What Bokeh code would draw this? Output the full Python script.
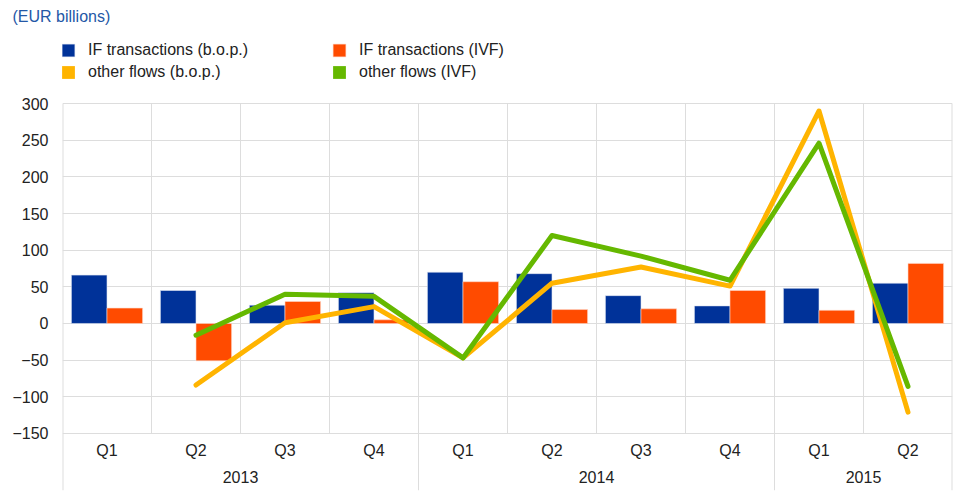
from bokeh.plotting import figure
from bokeh.models import (ColumnDataSource, FactorRange, Range1d, FixedTicker, Legend,
                          LegendItem, CategoricalAxis)
from bokeh.transform import dodge
from bokeh.embed import file_html
from bokeh.resources import INLINE

years = ["2013", "2014", "2015"]
quarters = [("2013", "Q1"), ("2013", "Q2"), ("2013", "Q3"), ("2013", "Q4"),
            ("2014", "Q1"), ("2014", "Q2"), ("2014", "Q3"), ("2014", "Q4"),
            ("2015", "Q1"), ("2015", "Q2")]

if_bop = [66, 45, 25, 42, 70, 68, 38, 24, 48, 55]
if_ivf = [21, -51, 30, 5, 57, 19, 20, 45, 18, 82]
# other flows start in 2013 Q2
other_bop = [-84, 1, 23, -47, 55, 77, 51, 290, -121]
other_ivf = [-16, 40, 37, -47, 120, 92, 59, 246, -86]

y_ticks = [-150, -100, -50, 0, 50, 100, 150, 200, 250, 300]

BLUE = "#003299"
ORANGE = "#ff4b00"
YELLOW = "#ffb400"
GREEN = "#65b800"
GRID = "#dddddd"
FONT = "Liberation Sans"

W, H = 954, 504
LEFT, RIGHT, BOTTOM = 62, 2, 14
TOP_PANEL = 30          # height of the title panel
frame_top = TOP_PANEL
frame_bottom = H - BOTTOM
px_per_unit = 329 / 450.0
y_start = -150 - (frame_bottom - 433) / px_per_unit
y_end = 300 + (104 - frame_top) / px_per_unit

p = figure(width=W, height=H, output_backend="svg", toolbar_location=None,
           x_range=FactorRange(*quarters, factor_padding=0, group_padding=0,
                               subgroup_padding=0, range_padding=0),
           y_range=Range1d(y_start, y_end),
           min_border_left=LEFT, min_border_right=RIGHT, min_border_top=0,
           min_border_bottom=BOTTOM, x_axis_location=None,
           title="(EUR billions)")
p.outline_line_color = None
p.background_fill_color = "white"

p.title.align = "left"
p.title.offset = -50
p.title.standoff = 10
p.title.text_font = FONT
p.title.text_font_size = "16px"
p.title.text_font_style = "normal"
p.title.text_color = "#2458a6"

# y axis
p.yaxis.ticker = FixedTicker(ticks=y_ticks)
p.yaxis.axis_line_color = None
p.yaxis.major_tick_line_color = None
p.yaxis.minor_tick_line_color = None
p.yaxis.major_tick_out = 0
p.yaxis.major_tick_in = 0
p.yaxis.major_label_standoff = 14
p.yaxis.major_label_text_font = FONT
p.yaxis.major_label_text_font_size = "16px"
p.yaxis.major_label_text_color = "#222222"
p.ygrid.ticker = FixedTicker(ticks=y_ticks)
p.ygrid.grid_line_color = GRID
p.xgrid.grid_line_color = None

# x axis fixed at the bottom of the value area
xaxis = CategoricalAxis(fixed_location=y_ticks[0])
xaxis.axis_line_color = None
xaxis.major_tick_line_color = None
xaxis.minor_tick_line_color = None
xaxis.major_tick_out = 0
xaxis.major_tick_in = 0
xaxis.major_label_standoff = 9
xaxis.major_label_text_font = FONT
xaxis.major_label_text_font_size = "16px"
xaxis.major_label_text_line_height = 1.08
xaxis.major_label_text_color = "#222222"
xaxis.group_text_font = FONT
xaxis.group_text_font_size = "16px"
xaxis.group_text_font_style = "normal"
xaxis.group_text_color = "#222222"
xaxis.separator_line_color = None
p.add_layout(xaxis, "below")

# category separators
n = len(quarters)
xs0, ys0, ys1 = [], [], []
for i in range(n + 1):
    is_year_edge = i == 0 or i == n or quarters[i - 1][0] != quarters[i][0]
    xs0.append(i)
    ys0.append(y_start if is_year_edge else y_ticks[0])
    ys1.append(y_ticks[-1])
p.segment(x0=xs0, y0=ys0, x1=xs0, y1=ys1, line_color=GRID,
          line_width=[2 if i in (0, n) else 1 for i in range(n + 1)])

src = ColumnDataSource(dict(x=quarters, bop=if_bop, ivf=if_ivf))
r_bop = p.vbar(x=dodge("x", -0.2, range=p.x_range), top="bop", width=0.4, source=src,
               fill_color=BLUE, line_color="#dfe6f2", line_width=0.6)
r_ivf = p.vbar(x=dodge("x", 0.2, range=p.x_range), top="ivf", width=0.4, source=src,
               fill_color=ORANGE, line_color="#ffd9c9", line_width=0.6)

p.line(x=quarters[1:], y=other_bop, line_color=YELLOW, line_width=5,
       line_cap="round", line_join="round")
p.line(x=quarters[1:], y=other_ivf, line_color=GREEN, line_width=5,
       line_cap="round", line_join="round")

# legend proxies (squares), zero-height so nothing shows in the plot
d_bop = p.vbar(x=[quarters[0]], top=[0], bottom=[0], width=0.4, fill_color=YELLOW, line_color=None)
d_ivf = p.vbar(x=[quarters[0]], top=[0], bottom=[0], width=0.4, fill_color=GREEN, line_color=None)

def make_legend(items, x, y):
    lg = Legend(items=items, location=(x, y), orientation="vertical")
    lg.border_line_color = None
    lg.background_fill_alpha = 0
    lg.padding = 0
    lg.margin = 0
    lg.spacing = 4
    lg.glyph_width = 16
    lg.glyph_height = 16
    lg.label_standoff = 12
    lg.label_text_font = FONT
    lg.label_text_font_size = "16px"
    lg.label_text_color = "#222222"
    return lg

legend_y = frame_bottom - 81
lg1 = make_legend([LegendItem(label="IF transactions (b.o.p.)", renderers=[r_bop]),
                   LegendItem(label="other flows (b.o.p.)", renderers=[d_bop])], -2, legend_y)
lg2 = make_legend([LegendItem(label="IF transactions (IVF)", renderers=[r_ivf]),
                   LegendItem(label="other flows (IVF)", renderers=[d_ivf])], 269, legend_y)
p.add_layout(lg1, "center")
p.add_layout(lg2, "center")

open("out.html", "w").write(file_html(p, INLINE))
